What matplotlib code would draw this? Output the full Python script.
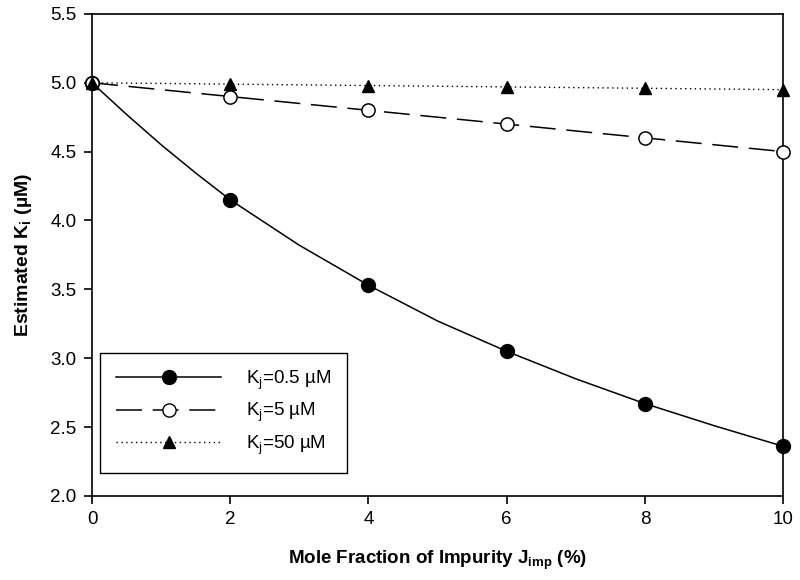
import matplotlib
matplotlib.use("Agg")
import matplotlib.pyplot as plt

plt.rcParams['font.family'] = ['Liberation Sans', 'DejaVu Sans']
plt.rcParams['mathtext.fontset'] = 'custom'
plt.rcParams['mathtext.rm'] = 'Liberation Sans'
plt.rcParams['mathtext.it'] = 'Liberation Sans'
plt.rcParams['mathtext.bf'] = 'Liberation Sans:bold'

# Daten
x_pts = [0, 2, 4, 6, 8, 10]
kj05_pts = [5.00, 4.15, 3.53, 3.05, 2.67, 2.36]
kj5_pts = [5.00, 4.90, 4.80, 4.70, 4.60, 4.50]
kj50_pts = [5.00, 4.99, 4.98, 4.97, 4.96, 4.95]

x_curve = [0, 0.5, 1, 1.5, 2, 3, 4, 5, 6, 7, 8, 9, 10]
kj05_curve = [5.00, 4.77, 4.55, 4.345, 4.15, 3.82, 3.53, 3.27, 3.05, 2.85, 2.67, 2.51, 2.36]

labels = [r'K$_\mathregular{j}$=0.5 µM', r'K$_\mathregular{j}$=5 µM', r'K$_\mathregular{j}$=50 µM']

fig = plt.figure(figsize=(8, 5.8), dpi=100)
ax = fig.add_axes([0.115, 0.145, 0.864, 0.831])

# Linien
ax.plot(x_curve, kj05_curve, '-', color='black', lw=1.1)
ax.plot(x_pts, kj5_pts, color='black', lw=1.1, dashes=(17, 7))
ax.plot(x_pts, kj50_pts, color='black', lw=1.0, dashes=(1, 2.5))

# Marker
ax.plot(x_pts, kj05_pts, 'o', color='black', markersize=10, clip_on=False, zorder=5)
ax.plot(x_pts, kj5_pts, 'o', markerfacecolor='white', markeredgecolor='black',
        markeredgewidth=1.1, markersize=9.5, clip_on=False, zorder=5)
ax.plot(x_pts, kj50_pts, '^', color='black', markersize=9, clip_on=False, zorder=5)

# Legenden-Handles
h1, = ax.plot([], [], '-o', color='black', lw=1.1, markersize=10)
h2, = ax.plot([], [], color='black', lw=1.1, dashes=(17, 7), marker='o',
              markerfacecolor='white', markeredgecolor='black', markersize=9.5)
h3, = ax.plot([], [], color='black', lw=1.0, dashes=(1, 2.5), marker='^', markersize=9)

leg = ax.legend([h1, h2, h3], labels, loc='lower left', bbox_to_anchor=(0.012, 0.048),
                fontsize=13.5, handlelength=5.6, handletextpad=1.3, labelspacing=0.5,
                borderpad=0.85, fancybox=False, framealpha=1, edgecolor='black',
                borderaxespad=0)
leg.get_frame().set_linewidth(1.0)

ax.set_xlim(0, 10)
ax.set_ylim(2.0, 5.5)
ax.set_xticks([0, 2, 4, 6, 8, 10])
ax.set_yticks([2.0, 2.5, 3.0, 3.5, 4.0, 4.5, 5.0, 5.5])
ax.set_yticklabels(['2.0', '2.5', '3.0', '3.5', '4.0', '4.5', '5.0', '5.5'])
ax.tick_params(direction='out', length=6, width=1.2, labelsize=13.5, pad=5)
for s in ax.spines.values():
    s.set_linewidth(1.2)

ax.set_xlabel(r'Mole Fraction of Impurity J$_\mathbf{imp}$ (%)', fontsize=13.5,
              fontweight='bold', labelpad=15)
ax.set_ylabel(r'Estimated K$_\mathbf{i}$ (µM)', fontsize=14,
              fontweight='bold', labelpad=12)

fig.savefig('out.png', dpi=100)
